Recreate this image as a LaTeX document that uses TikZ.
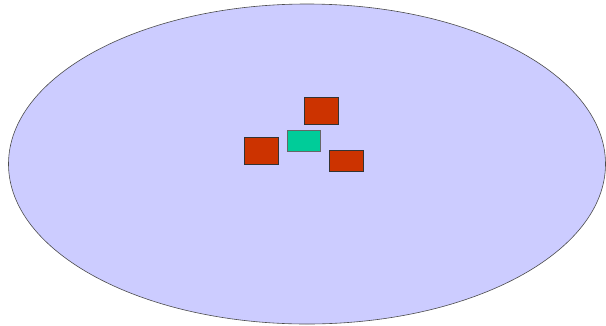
\documentclass[tikz,border=0pt]{standalone}
\begin{document}
\begin{tikzpicture}[x=1pt,y=-1pt,
  redbox/.style={draw=black!80,line width=0.8pt,fill=red3,inner sep=0pt},
  greenbox/.style={draw=black!60,line width=0.8pt,fill=green3,inner sep=0pt},
  cloud/.style={draw=black!70,line width=0.6pt,fill=lav}]
\definecolor{red3}{HTML}{CC3300}
\definecolor{green3}{HTML}{00CC99}
\definecolor{lav}{HTML}{CCCCFF}
\useasboundingbox (0,0) rectangle (606,325);
\fill[white] (0,0) rectangle (606,325);
\path[cloud] (307,164) ellipse [x radius=298.5pt, y radius=160pt];
\node[redbox,minimum width=34pt,minimum height=27.5pt] (rtop) at (321,111) {};
\node[greenbox,minimum width=33pt,minimum height=20.5pt] (g) at (303.7,141) {};
\node[redbox,minimum width=34pt,minimum height=27.5pt] (rleft) at (261.7,151) {};
\node[redbox,minimum width=34pt,minimum height=20.5pt] (rright) at (346,161) {};
\end{tikzpicture}
\end{document}
